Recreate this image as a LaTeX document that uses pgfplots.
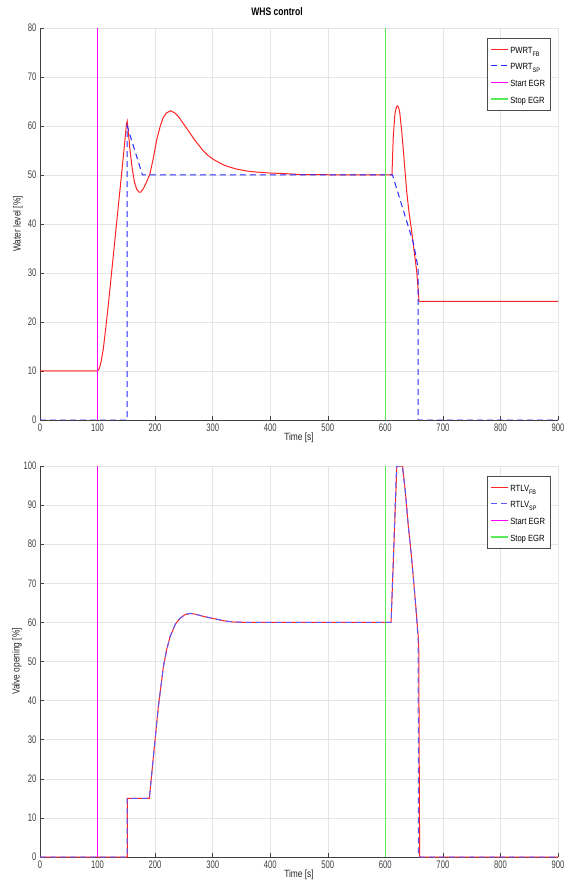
\documentclass[border=0pt]{standalone}
\usepackage{pgfplots}
\pgfplotsset{compat=1.18}
\usepackage{fontspec}
\setmainfont{Liberation Sans}[FakeStretch=0.85]
\newfontfamily\tickf{Liberation Sans}[FakeStretch=0.7]
\newfontfamily\labf{Liberation Sans}[FakeStretch=0.8]
\newfontfamily\legf{Liberation Sans}[FakeStretch=0.85]
\newfontfamily\titf{Liberation Sans}[FakeStretch=0.78]
\definecolor{myred}{rgb}{1,0.14,0.14}
\definecolor{myblue}{rgb}{0.16,0.16,1}
\definecolor{mylblue}{rgb}{0.35,0.35,1}
\definecolor{mymag}{rgb}{1,0,1}
\definecolor{mygreen}{rgb}{0.35,0.92,0.35}
\definecolor{axgray}{rgb}{0.25,0.25,0.25}
\newcommand{\sub}[1]{\raisebox{-3bp}[0pt][0pt]{\fontsize{6.5}{7}\selectfont #1}}
\newcommand{\sA}{\rule[-3.3bp]{0pt}{13.2bp}}
\pgfplotsset{
  mystyle/.style={
    scale only axis, width=518bp,
    xmin=0, xmax=900,
    axis x line*=bottom, axis y line*=left,
    axis line style={draw=axgray, line width=0.5bp},
    tick align=inside, major tick length=4bp,
    tick style={draw=axgray, line width=0.5bp},
    xtick={0,100,...,900},
    grid=major, major grid style={draw=black!10, line width=0.5bp},
    /pgf/number format/assume math mode=true,
    tick label style={font=\tickf\fontsize{11}{12}\selectfont, text=axgray},
    label style={font=\labf\fontsize{10.5}{12}\selectfont, text=black!85},
    xlabel={Time [s]},
    xlabel style={at={(axis description cs:0.5,0)}, anchor=center, yshift=-18bp},
    legend cell align=left,
    legend style={at={(rel axis cs:0.985,0.974)}, anchor=north east,
      draw=black!70, fill=white, font=\legf\fontsize{9}{10}\selectfont,
      inner sep=3bp, row sep=1.3bp, nodes={inner sep=2bp}},
    every axis plot/.append style={line width=1bp},
  }
}
\begin{document}
\begin{tikzpicture}
% ---------------- top axis ----------------
\begin{axis}[mystyle, height=392bp, ymin=0, ymax=80, ytick={0,10,...,80},
  ylabel={Water level [\%]},
  ylabel style={at={(axis description cs:-0.0425,0.5)}, anchor=center},
  title={WHS control},
  title style={at={(axis description cs:0.5,1)}, anchor=center, xshift=-22bp, yshift=10.5bp, font=\titf\bfseries\fontsize{11}{12}\selectfont}]
\addplot[color=myred, solid] coordinates {
(0,10) (100,10) (103,10.5) (106,11.8) (110,14.5) (115,19.5) (120,25) (125,30.8)
(130,36.6) (135,42.4) (140,48.2) (145,54) (150,60.2) (151.5,61) (153,59.5)
(156,55.5) (160,51.5) (164,48.6) (168,47.1) (172,46.5) (175,46.5) (180,47.3)
(186,48.8) (191,50.2) (197,53.5) (203,57.3) (209,60) (214,61.7) (220,62.7)
(227,63.1) (235,62.6) (242,61.7) (249,60.5) (258,59) (266,57.6) (275,56.2)
(284,54.9) (292,54) (301,53.2) (310,52.6) (318,52.1) (330,51.6) (342,51.2)
(360,50.8) (376,50.6) (400,50.4) (423,50.3) (452,50.1) (500,50.05) (611.5,50)
(613.7,57.6) (616.6,62.4) (619,63.8) (620.8,64.1) (623,63.8) (625,62.8)
(628.4,59) (632,54) (637,46.8) (641,42.5) (645.7,38.6) (650,34.5) (654.4,30.5)
(658.5,24.3) (660,24.2) (900,24.2)
};
\addlegendentry{\sA PWRT\sub{FB}}
\addplot[color=myblue, dash pattern=on 6bp off 4bp] coordinates {
(0,0) (151.5,0) (151.5,60) (178,50) (612.5,50) (649,36) (657,31) (657,0) (900,0)
};
\addlegendentry{\sA PWRT\sub{SP}}
\addplot[color=mymag, line width=1.5bp] coordinates {(100,0) (100,80)};
\addlegendentry{\sA Start EGR}
\addplot[color=mygreen, line width=1.5bp] coordinates {(600,0) (600,80)};
\addlegendentry{\sA Stop EGR}
\end{axis}
% ---------------- bottom axis ----------------
\begin{axis}[mystyle, height=391bp, at={(0,-46bp)}, anchor=north west,
  ymin=0, ymax=100, ytick={0,10,...,100},
  ylabel={Valve opening [\%]},
  ylabel style={at={(axis description cs:-0.0445,0.5)}, anchor=center}]
\addplot[color=myred, solid] coordinates {
(0,0) (151.7,0) (151.7,15) (190,15) (197,25.6) (205.6,38.4) (214.3,48.6)
(220,53) (225.9,56.3) (235,59.5) (243,61) (252,62) (261,62.3) (270,62.1)
(285,61.5) (301,61) (320,60.4) (336,60.1) (360,60) (610,60) (620,100)
(630,100) (635,93) (640,84.5) (645,77.5) (649,70.8) (653,64) (656.5,57.5)
(658,55) (659.6,0) (900,0)
};
\addlegendentry{\sA RTLV\sub{FB}}
\addplot[color=mylblue, dash pattern=on 6bp off 4bp] coordinates {
(0,0) (151.5,0) (151.5,15) (190,15) (197,25.6) (205.6,38.4) (214.3,48.6)
(220,53) (225.9,56.3) (235,59.5) (243,61) (252,62) (261,62.3) (270,62.1)
(285,61.5) (301,61) (320,60.4) (336,60.1) (360,60) (610,60) (619.5,100)
(629.5,100) (635,93) (640,84.5) (645,77.5) (649,70.8) (653,64) (656,57.5)
(657,57) (657.5,0) (900,0)
};
\addlegendentry{\sA RTLV\sub{SP}}
\addplot[color=mymag, line width=1.5bp] coordinates {(100,0) (100,100)};
\addlegendentry{\sA Start EGR}
\addplot[color=mygreen, line width=1.5bp] coordinates {(600,0) (600,100)};
\addlegendentry{\sA Stop EGR}
\end{axis}
\pgfresetboundingbox
\useasboundingbox (-40bp,-475bp) rectangle (524bp,420bp);
\end{tikzpicture}
\end{document}
